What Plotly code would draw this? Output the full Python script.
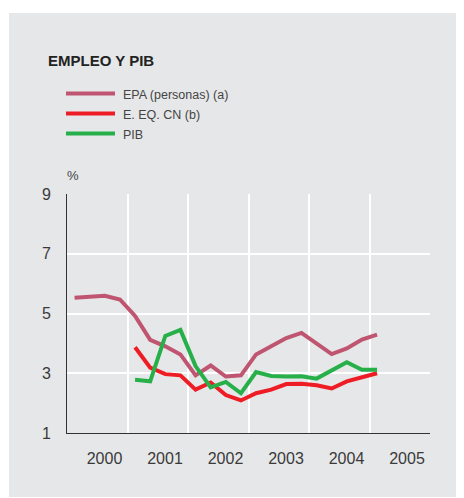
import plotly.graph_objects as go

# ---- data ----
quarters_epa = [f"{y}-T{q}" for y in range(2000, 2005) for q in range(1, 5)] + ["2005-T1"]
epa = [5.53, 5.55, 5.59, 5.47, 4.92, 4.12, 3.90, 3.63, 2.93, 3.26, 2.89, 2.93,
       3.63, 3.90, 4.18, 4.35, 3.99, 3.64, 3.83, 4.13, 4.29]
quarters_cn = quarters_epa[4:]
eq_cn = [3.87, 3.19, 2.97, 2.93, 2.45, 2.69, 2.27, 2.09, 2.33, 2.45, 2.64, 2.65,
         2.60, 2.49, 2.73, 2.86, 3.00]
pib = [2.78, 2.73, 4.25, 4.45, 3.24, 2.53, 2.71, 2.33, 3.04, 2.91, 2.89, 2.90,
       2.82, 3.09, 3.37, 3.12, 3.12]
series_names = ["EPA (personas) (a)", "E. EQ. CN (b)", "PIB"]
series_colors = ["#bf5570", "#ee1c25", "#27b04a"]
years = [2000, 2001, 2002, 2003, 2004, 2005]
y_ticks = [1, 3, 5, 7, 9]


def to_num(labels):
    out = []
    for s in labels:
        y, q = s.split("-T")
        out.append(int(y) + (int(q) - 0.5) / 4)
    return out


fig = go.Figure()
for name, xs, ys, col in zip(series_names,
                             [quarters_epa, quarters_cn, quarters_cn],
                             [epa, eq_cn, pib], series_colors):
    fig.add_trace(go.Scatter(x=to_num(xs), y=ys, mode="lines", name=name,
                             line=dict(color=col, width=4), showlegend=False))

OFF = 8  # page body margin
W, H = 464 - OFF, 498 - OFF
L, R, T, B = 67 - OFF, 430 - OFF, 194 - OFF, 433 - OFF
pw, ph = R - L, B - T


def px(x):
    return (x - OFF - L) / pw


def py(y):
    return (B - (y - OFF)) / ph


GRAY = "#e6e7e8"
FONT = "Liberation Sans, Arial"
shapes = [dict(type="rect", xref="paper", yref="paper", x0=px(9), x1=px(470),
               y0=py(497), y1=py(13), fillcolor=GRAY, line=dict(width=0), layer="below")]
annotations = [
    dict(text="<b>EMPLEO Y PIB</b>", xref="paper", yref="paper", x=px(46), y=py(61),
         xanchor="left", yanchor="middle", showarrow=False,
         font=dict(size=15, color="#222222", family=FONT)),
    dict(text="%", xref="paper", yref="paper", x=px(65), y=py(176),
         xanchor="left", yanchor="middle", showarrow=False,
         font=dict(size=13, color="#444444", family=FONT)),
]
for i, (name, col) in enumerate(zip(series_names, series_colors)):
    ly = 93.5 + 20 * i
    shapes.append(dict(type="line", xref="paper", yref="paper", x0=px(66), x1=px(115),
                       y0=py(ly), y1=py(ly), line=dict(color=col, width=4)))
    annotations.append(dict(text=name, xref="paper", yref="paper", x=px(121), y=py(ly + 1.5),
                            xanchor="left", yanchor="middle", showarrow=False,
                            font=dict(size=12.5, color="#444444", family=FONT)))

fig.update_layout(
    width=W, height=H,
    margin=dict(l=L, r=W - R, t=T, b=H - B, pad=0),
    paper_bgcolor="white", plot_bgcolor=GRAY,
    font=dict(family=FONT, color="#3a3a3a", size=16),
    shapes=shapes, annotations=annotations,
    xaxis=dict(range=[2000, 2006], tickvals=[y + 0.62 for y in years],
               ticktext=[str(y) for y in years], showgrid=False, zeroline=False,
               showline=True, linecolor="#333333", linewidth=1, ticks="",
               ticklabelstandoff=11,
               minor=dict(tickvals=[y + 1 for y in years], showgrid=True,
                          gridcolor="white", gridwidth=2, ticks="")),
    yaxis=dict(range=[1, 9], tickvals=y_ticks, showgrid=True, gridcolor="white",
               gridwidth=2, zeroline=False, showline=True, linecolor="#333333",
               linewidth=1, ticks="", ticklabelstandoff=12),
)
fig.write_html("out.html")
